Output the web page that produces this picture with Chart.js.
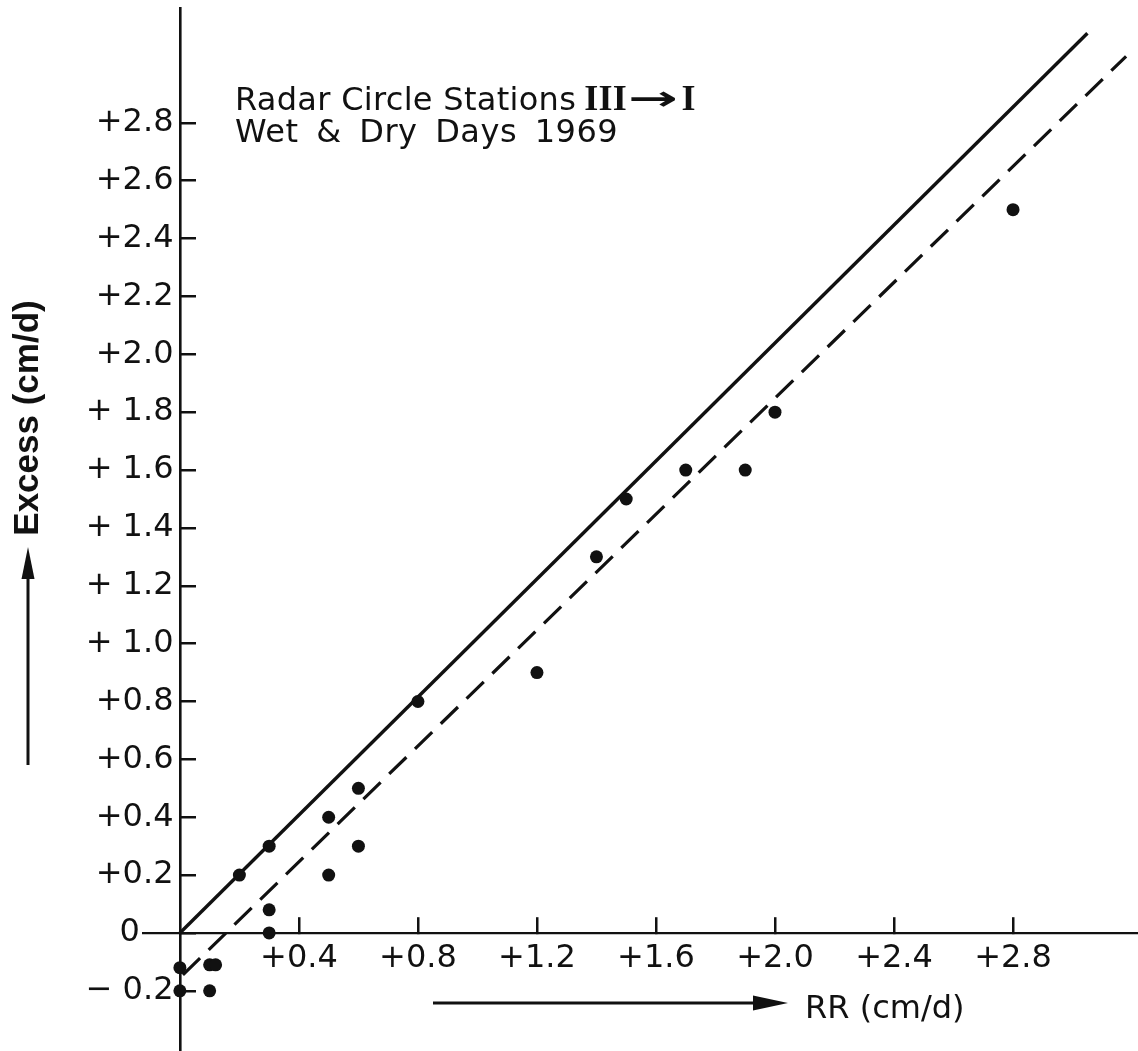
<!DOCTYPE html>
<html>
<head>
<meta charset="utf-8">
<script src="https://cdn.jsdelivr.net/npm/chart.js@4.4.1/dist/chart.umd.min.js"></script>
<style>
  html, body { margin: 0; padding: 0; background: #fff; overflow: hidden; }
  canvas { display: block; }
</style>
</head>
<body>
<canvas id="myChart" width="1138" height="1051"></canvas>
<script>
// observed points, RR (x) against Excess (y), cm/d
const rrValues     = [0, 0, 0.1, 0.12, 0.1, 0.2, 0.3, 0.3, 0.3, 0.5, 0.5, 0.6, 0.6, 0.8, 1.2, 1.4, 1.5, 1.7, 1.9, 2.0, 2.8];
const excessValues = [-0.12, -0.2, -0.11, -0.11, -0.2, 0.2, 0.3, 0.08, 0, 0.4, 0.2, 0.5, 0.3, 0.8, 0.9, 1.3, 1.5, 1.6, 1.6, 1.8, 2.5];

// the two drawn lines (end points)
const solidLineX  = [0, 3.05];
const solidLineY  = [0, 3.11];
const dashedLineX = [0.01, 3.18];
const dashedLineY = [-0.145, 3.03];

// tick values and their printed labels
const xTickValues = [0.4, 0.8, 1.2, 1.6, 2.0, 2.4, 2.8];
const xTickLabels = ["+0.4", "+0.8", "+1.2", "+1.6", "+2.0", "+2.4", "+2.8"];
const yTickValues = [-0.2, 0, 0.2, 0.4, 0.6, 0.8, 1.0, 1.2, 1.4, 1.6, 1.8, 2.0, 2.2, 2.4, 2.6, 2.8];
const yTickLabels = ["\u2212 0.2", "0", "+0.2", "+0.4", "+0.6", "+0.8", "+ 1.0", "+ 1.2", "+ 1.4", "+ 1.6", "+ 1.8", "+2.0", "+2.2", "+2.4", "+2.6", "+2.8"];

const ink = "#111";
const sans = "'DejaVu Sans', sans-serif";

const toPoints = (xs, ys) => xs.map((x, i) => ({ x: x, y: ys[i] }));

// axes sit inside the plot, so they take no room in the layout
const noRoom = s => {
  if (s.isHorizontal()) s.height = 0; else s.width = 0;
  s.paddingTop = s.paddingBottom = s.paddingLeft = s.paddingRight = 0;
};

// y labels are right-aligned on the axis; trailing spaces keep them off it
// (the "0" sits further left, past the start of the x axis line)
const yLabel = (v, i) => yTickLabels[i] + (v === 0 ? "   \u2009\u200A" : "\u2009");

// title, axis names and arrows drawn on top of the plot
const annotate = {
  id: "annotate",
  afterDraw(chart) {
    const ctx = chart.ctx;
    ctx.save();
    ctx.fillStyle = ink;
    ctx.strokeStyle = ink;
    ctx.textBaseline = "alphabetic";
    ctx.textAlign = "left";

    // title block
    ctx.font = "32px " + sans;
    ctx.letterSpacing = "0.3px";
    let x = 235;
    ctx.fillText("Radar Circle Stations", x, 110);
    x += ctx.measureText("Radar Circle Stations").width + 8;
    ctx.font = "bold 36px 'Liberation Serif', serif";
    ctx.fillText("III", x, 110);
    x += ctx.measureText("III").width + 1;
    ctx.font = "bold 34px " + sans;
    const arrowW = ctx.measureText("\u2192").width;
    ctx.save();
    ctx.translate(x, 110);
    ctx.scale(1.75, 1);
    ctx.fillText("\u2192", 0, 0);
    ctx.restore();
    x += arrowW * 1.75 + 3;
    ctx.font = "bold 36px 'Liberation Serif', serif";
    ctx.fillText("I", x, 110);

    ctx.font = "32px " + sans;
    ctx.letterSpacing = "0.5px";
    ctx.wordSpacing = "7px";
    ctx.fillText("Wet & Dry Days 1969", 235, 142);
    ctx.wordSpacing = "0px";
    ctx.letterSpacing = "0px";

    // x axis name with arrow
    ctx.lineWidth = 3;
    ctx.beginPath();
    ctx.moveTo(433, 1003);
    ctx.lineTo(760, 1003);
    ctx.stroke();
    ctx.beginPath();
    ctx.moveTo(788, 1003);
    ctx.lineTo(753, 995.5);
    ctx.lineTo(753, 1010.5);
    ctx.closePath();
    ctx.fill();
    ctx.font = "32px " + sans;
    ctx.fillText("RR (cm/d)", 805, 1018);

    // y axis name with arrow
    ctx.beginPath();
    ctx.moveTo(28, 765);
    ctx.lineTo(28, 570);
    ctx.stroke();
    ctx.beginPath();
    ctx.moveTo(28, 547);
    ctx.lineTo(21.5, 579);
    ctx.lineTo(34.5, 579);
    ctx.closePath();
    ctx.fill();
    ctx.save();
    ctx.translate(38, 418);
    ctx.rotate(-Math.PI / 2);
    ctx.textAlign = "center";
    ctx.font = "bold 35px 'Liberation Sans', Arial, sans-serif";
    ctx.fillText("Excess (cm/d)", 0, 0);
    ctx.restore();

    ctx.restore();
  }
};

Chart.defaults.font.family = sans;
Chart.defaults.font.size = 32;
Chart.defaults.color = ink;

const chartData = {
  datasets: [
    {
      label: "observed",
      data: toPoints(rrValues, excessValues),
      backgroundColor: ink,
      borderWidth: 0,
      pointRadius: 6.5,
      showLine: false
    },
    {
      label: "solid line",
      data: toPoints(solidLineX, solidLineY),
      borderColor: ink,
      borderWidth: 3.4,
      pointRadius: 0,
      showLine: true
    },
    {
      label: "dashed line",
      data: toPoints(dashedLineX, dashedLineY),
      borderColor: ink,
      borderWidth: 3.2,
      borderDash: [24, 12],
      pointRadius: 0,
      showLine: true
    }
  ]
};

const chartOptions = {
  responsive: false,
  animation: false,
  layout: { autoPadding: false, padding: { left: 143, right: 0, top: 8, bottom: 0 } },
  plugins: {
    legend: { display: false },
    tooltip: { enabled: false }
  },
  scales: {
    x: {
      type: "linear",
      position: { y: 0 },
      min: -0.124,
      max: 3.22,
      afterBuildTicks: s => { s.ticks = xTickValues.map(v => ({ value: v })); },
      afterFit: noRoom,
      ticks: {
        padding: 24,
        maxRotation: 0,
        autoSkip: false,
        callback: (v, i) => xTickLabels[i]
      },
      grid: { drawOnChartArea: false, tickLength: -17, color: ink, lineWidth: 2.5 },
      border: { display: true, color: ink, width: 2.2 }
    },
    y: {
      type: "linear",
      position: { x: 0 },
      min: -0.408,
      max: 3.197,
      afterBuildTicks: s => { s.ticks = yTickValues.map(v => ({ value: v })); },
      afterFit: noRoom,
      ticks: {
        autoSkip: false,
        callback: yLabel
      },
      grid: { drawOnChartArea: false, tickLength: -17, color: ink, lineWidth: 2.5 },
      border: { display: true, color: ink, width: 2.6 }
    }
  }
};

const ctx = document.getElementById("myChart").getContext("2d");
const myChart = new Chart(ctx, {
  type: "scatter",
  data: chartData,
  options: chartOptions,
  plugins: [annotate]
});
</script>
</body>
</html>
